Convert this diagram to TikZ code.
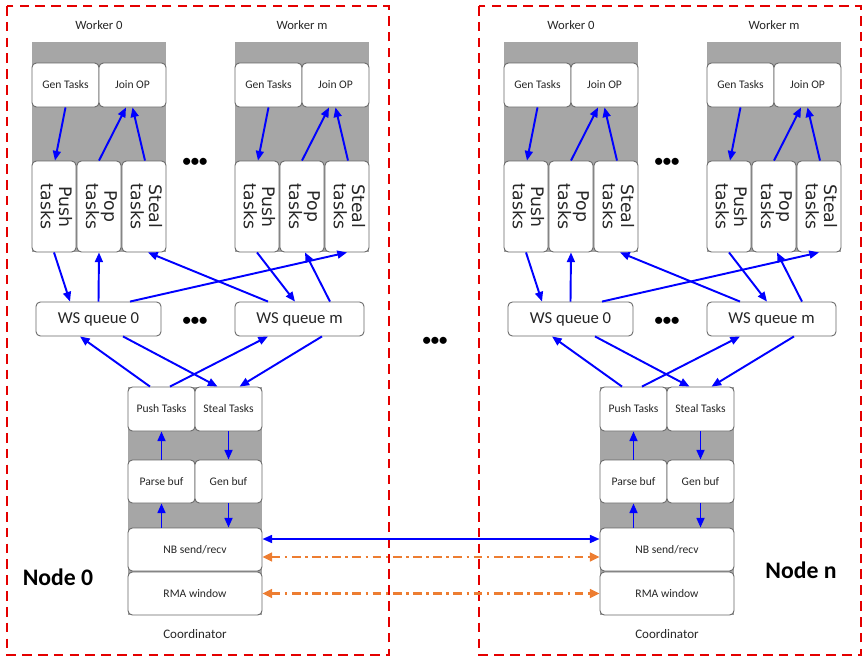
\documentclass[tikz,border=0pt]{standalone}
\usepackage{fontspec}
\setmainfont{Carlito}
\newfontfamily\vfont{DejaVu Sans}
\usepackage{graphicx}
\usetikzlibrary{arrows.meta}
\definecolor{panelgray}{RGB}{166,166,166}
\definecolor{flowblue}{RGB}{0,0,255}
\definecolor{rmaorange}{RGB}{237,125,49}
\definecolor{framered}{RGB}{228,0,0}
\def\px{0.02cm}
\newcommand{\vlab}[2]{\rotatebox{-90}{\begin{tabular}{@{}c@{}}#1\\#2\end{tabular}}}

\begin{document}
\begin{tikzpicture}[x=0.02cm, y=-0.02cm,
  every node/.style={text=black!85},
  tbox/.style={draw=black!60, fill=white, rounded corners=2.5pt, line width=0.5pt, inner sep=0pt, font=\fontsize{6.6}{7}\selectfont},
  hbox/.style={tbox, minimum width=67*\px, minimum height=44*\px},
  vbox/.style={tbox, minimum width=44*\px, minimum height=91*\px, font=\vfont\fontsize{9.8}{9.8}\selectfont},
  qbox/.style={tbox, minimum width=125*\px, minimum height=34*\px, font=\fontsize{9.5}{10}\selectfont},
  cbox/.style={tbox, minimum width=134*\px, minimum height=43*\px},
  wlab/.style={font=\fontsize{7.2}{8}\selectfont},
  clab/.style={font=\fontsize{7.4}{8}\selectfont},
  dots/.style={font=\bfseries\fontsize{9.5}{10}\selectfont, text=black},
  bignode/.style={font=\bfseries\fontsize{13.5}{14}\selectfont, text=black},
  flow/.style={draw=flowblue, line width=1.1pt, -{Triangle[length=5.5pt,width=4.5pt]}},
  biflow/.style={draw=flowblue, line width=1.1pt, {Triangle[length=5.5pt,width=4.5pt]}-{Triangle[length=5.5pt,width=4.5pt]}},
  rma/.style={draw=rmaorange, line width=1.2pt, dash pattern=on 5pt off 2.5pt on 1.5pt off 2.5pt,
    {Triangle[length=5.5pt,width=5pt]}-{Triangle[length=5.5pt,width=5pt]}},
  frame/.style={draw=framered, line width=1.3pt, dash pattern=on 5.5pt off 3.5pt}]
  \useasboundingbox (0,0) rectangle (863,659);
  \foreach \p/\dx in {a/0, b/472} {
    \begin{scope}[xshift=\dx*\px]
      % dashed node frame
      \draw[frame] (7,6) rectangle (389,655);
      % workers
      \foreach \w/\wx in {0/32, m/235} {
        \fill[panelgray] (\wx,42) rectangle (\wx+134,252);
        \node[wlab] (\p\w-title) at (\wx+67,25) {Worker \w};
        \node[hbox] (\p\w-gen) at (\wx+33.5,85) {Gen Tasks};
        \node[hbox] (\p\w-join) at (\wx+100.5,85) {Join OP};
        \node[vbox] (\p\w-push) at (\wx+22,206.5) {\vlab{Push}{tasks}};
        \node[vbox] (\p\w-pop) at (\wx+67,206.5) {\vlab{Pop}{tasks}};
        \node[vbox] (\p\w-steal) at (\wx+112,206.5) {\vlab{Steal}{tasks}};
        \draw[flow] (\p\w-gen.south) -- ([xshift=1*\px]\p\w-push.north);
        \draw[flow] (\p\w-pop.north) -- ([xshift=-6.5*\px]\p\w-join.south);
        \draw[flow] ([xshift=1*\px]\p\w-steal.north) -- (\p\w-join.south);
      }
      \node[dots] (\p-wdots) at (195,162) {•••};
      % work-stealing queues
      \node[qbox] (\p-q0) at (98.5,319) {WS queue 0};
      \node[qbox, minimum width=129*\px] (\p-qm) at (299.5,319) {WS queue m};
      \node[dots] (\p-qdots) at (195,321) {•••};
      \draw[flow] (\p0-push.south) -- ([xshift=-28.5*\px]\p-q0.north);
      \draw[flow] (\p-q0.north) -- (\p0-pop.south);
      \draw[flow] ([xshift=-31.5*\px]\p-qm.north) -- ([xshift=4*\px]\p0-steal.south);
      \draw[flow] ([xshift=31.5*\px]\p-q0.north) -- (\p m-steal.south);
      \draw[flow] (\p m-push.south) -- ([xshift=-4.5*\px]\p-qm.north);
      \draw[flow] ([xshift=30.5*\px]\p-qm.north) -- ([xshift=3*\px]\p m-pop.south);
      % coordinator
      \fill[panelgray] (128,387) rectangle (262,615);
      \node[hbox] (\p-cpush) at (161.5,409) {Push Tasks};
      \node[hbox] (\p-csteal) at (228.5,409) {Steal Tasks};
      \node[hbox, minimum height=43*\px] (\p-parse) at (161.5,481.5) {Parse buf};
      \node[hbox, minimum height=43*\px] (\p-genbuf) at (228.5,481.5) {Gen buf};
      \node[cbox] (\p-nb) at (195,549.5) {NB send/recv};
      \node[cbox] (\p-rma) at (195,593.5) {RMA window};
      \node[clab] (\p-ctitle) at (195,634) {Coordinator};
      \draw[flow] ([xshift=-11.5*\px]\p-cpush.north) -- ([xshift=-18.5*\px]\p-q0.south);
      \draw[flow] ([xshift=8.5*\px]\p-cpush.north) -- ([xshift=-31.5*\px]\p-qm.south);
      \draw[flow] ([xshift=24.5*\px]\p-q0.south) -- ([xshift=-11*\px]\p-csteal.north);
      \draw[flow] ([xshift=22.5*\px]\p-qm.south) -- ([xshift=11*\px]\p-csteal.north);
      \draw[flow] (\p-parse.north) -- (\p-cpush.south);
      \draw[flow] (\p-csteal.south) -- (\p-genbuf.north);
      \draw[flow] (\p-parse.south |- \p-nb.north) -- (\p-parse.south);
      \draw[flow] (\p-genbuf.south) -- (\p-genbuf.south |- \p-nb.north);
    \end{scope}
  }
  % links between nodes
  \draw[biflow] ([yshift=10.5*\px]a-nb.east) -- ([yshift=10.5*\px]b-nb.west);
  \draw[rma] ([yshift=-7.5*\px]a-nb.east) -- ([yshift=-7.5*\px]b-nb.west);
  \draw[rma] (a-rma.east) -- (b-rma.west);
  \node[dots] (mid-dots) at (435,341) {•••};
  \node[bignode] (node0-lab) at (58,577) {Node 0};
  \node[bignode] (noden-lab) at (801,570) {Node n};
\end{tikzpicture}
\end{document}
